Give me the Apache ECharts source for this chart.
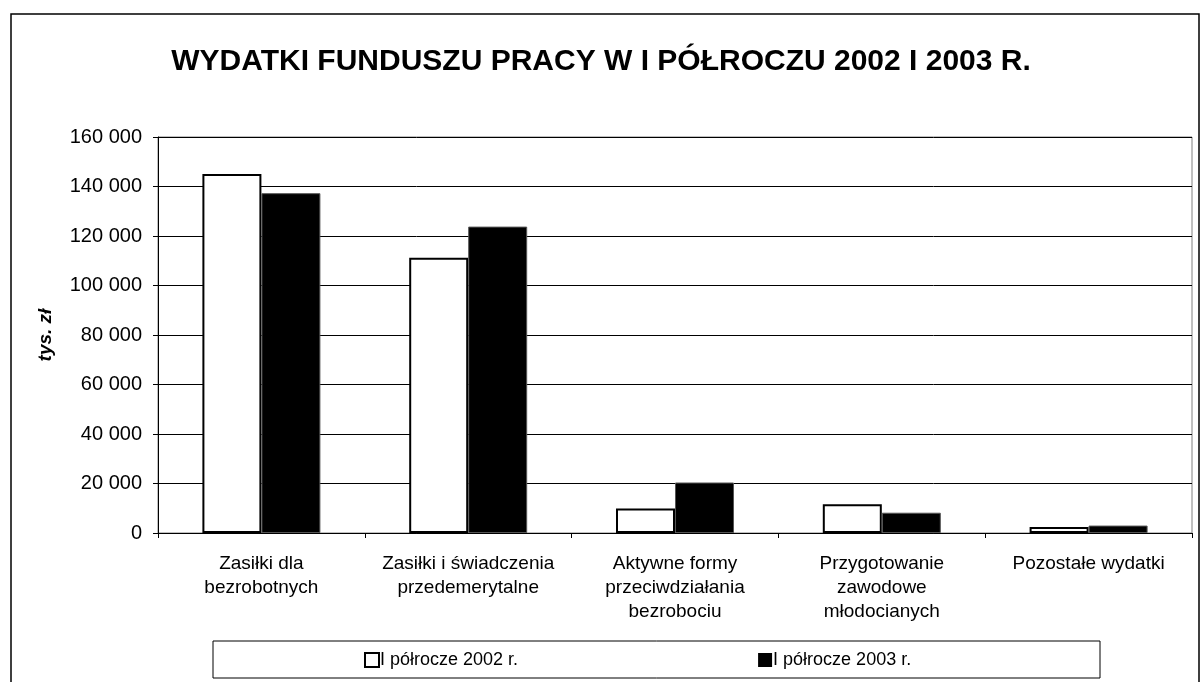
<!DOCTYPE html>
<html>
<head>
<meta charset="utf-8">
<script src="https://cdn.jsdelivr.net/npm/echarts@6/dist/echarts.min.js"></script>
<style>html,body{margin:0;padding:0;background:#fff}#c{width:1202px;height:682px}</style>
</head>
<body>
<div id="c"></div>
<script>
const categories = [
  'Zasiłki dla\nbezrobotnych',
  'Zasiłki i świadczenia\nprzedemerytalne',
  'Aktywne formy\nprzeciwdziałania\nbezrobociu',
  'Przygotowanie\nzawodowe\nmłodocianych',
  'Pozostałe wydatki'
];
const series2002 = [145100, 111200, 9900, 11600, 2400];
const series2003 = [137300, 123800, 20400, 8200, 3000];
const seriesNames = ['I półrocze 2002 r.', 'I półrocze 2003 r.'];
const yTicks = { min: 0, max: 160000, interval: 20000 };
const titleText = 'WYDATKI FUNDUSZU PRACY W I PÓŁROCZU 2002 I 2003 R.';
const yAxisName = 'tys. zł';

const FONT = '"Liberation Sans", Arial, sans-serif';
const chart = echarts.init(document.getElementById('c'));
chart.setOption({
  animation: false,
  backgroundColor: '#fff',
  textStyle: { fontFamily: FONT, color: '#000' },
  title: {
    text: titleText, left: 'center', top: 42,
    textStyle: { fontFamily: FONT, fontSize: 30, fontWeight: 'bold', color: '#000' }
  },
  graphic: [
    { type: 'rect', z: -10, shape: { x: 11, y: 14, width: 1188, height: 690 },
      style: { fill: '#fff', stroke: '#000', lineWidth: 1.5 } },
    { type: 'rect', z: 1, shape: { x: 213, y: 641, width: 887, height: 37 },
      style: { fill: 'none', stroke: '#000', lineWidth: 1 } }
  ],
  legend: {
    left: 364, top: 651, itemGap: 240, itemWidth: 14, itemHeight: 14,
    padding: 0,
    textStyle: { fontFamily: FONT, fontSize: 18, color: '#000', padding: [0, 0, 0, -4] },
    data: [
      { name: seriesNames[0], icon: 'rect', itemStyle: { color: '#fff', borderColor: '#000', borderWidth: 2 } },
      { name: seriesNames[1], icon: 'rect', itemStyle: { color: '#000', borderColor: '#000', borderWidth: 0 } }
    ]
  },
  grid: { left: 158, right: 10, top: 137, bottom: 149, show: true, borderColor: '#808080', borderWidth: 1 },
  xAxis: {
    type: 'category', data: categories,
    axisLine: { lineStyle: { color: '#000', width: 1 } },
    axisTick: { show: true, interval: 0, length: 5, lineStyle: { color: '#000' } },
    axisLabel: { interval: 0, margin: 19, fontFamily: FONT, fontSize: 19, lineHeight: 24, color: '#000' }
  },
  yAxis: {
    type: 'value', min: yTicks.min, max: yTicks.max, interval: yTicks.interval,
    name: yAxisName, nameLocation: 'middle', nameGap: 103, nameRotate: 90,
    nameTextStyle: { fontFamily: FONT, fontSize: 19, fontWeight: 'bold', fontStyle: 'italic', color: '#000' },
    axisLine: { show: true, lineStyle: { color: '#000', width: 1 } },
    axisTick: { show: true, length: 5, lineStyle: { color: '#000' } },
    axisLabel: {
      margin: 16, fontFamily: FONT, fontSize: 20, color: '#000',
      formatter: v => String(v).replace(/\B(?=(\d{3})+(?!\d))/g, ' ')
    },
    splitLine: { show: true, lineStyle: { color: '#000', width: 1 } }
  },
  series: [
    { name: seriesNames[0], type: 'bar', data: series2002, barWidth: 59, barGap: '0%',
      itemStyle: { color: '#fff', borderColor: '#000', borderWidth: 2 } },
    { name: seriesNames[1], type: 'bar', data: series2003, barWidth: 59,
      itemStyle: { color: '#000', borderColor: '#555', borderWidth: 1 } }
  ]
});
</script>
</body>
</html>
